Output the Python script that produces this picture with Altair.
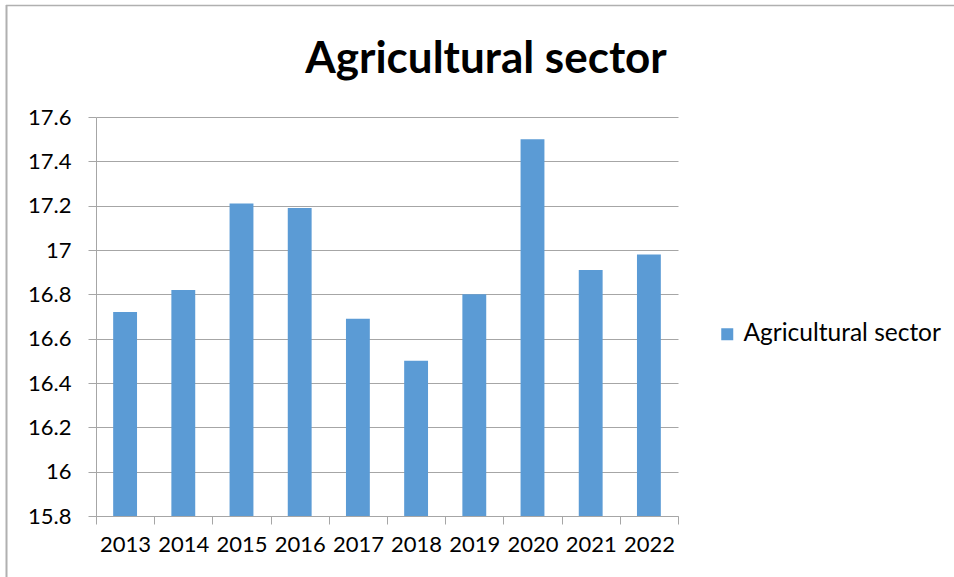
import altair as alt
import pandas as pd

years = ["2013", "2014", "2015", "2016", "2017", "2018", "2019", "2020", "2021", "2022"]
values = [16.72, 16.82, 17.21, 17.19, 16.69, 16.50, 16.80, 17.50, 16.91, 16.98]
series_name = "Agricultural sector"
title_text = "Agricultural sector"
y_ticks = [15.8, 16.0, 16.2, 16.4, 16.6, 16.8, 17.0, 17.2, 17.4, 17.6]

df = pd.DataFrame({"year": years, "value": values, "series": [series_name] * len(years)})

GRAY = "#A6A6A6"

bars = alt.Chart(df).mark_bar(clip=True, width=alt.RelativeBandSize(0.41)).encode(
    x=alt.X(
        "year:N",
        sort=years,
        scale=alt.Scale(paddingInner=0, paddingOuter=0),
        axis=alt.Axis(
            title=None, labelAngle=0, grid=False, tickBand="extent", tickSize=8,
            labelPadding=10, labelFontSize=22, domainColor=GRAY, tickColor=GRAY,
        ),
    ),
    y=alt.Y(
        "value:Q",
        scale=alt.Scale(domain=[15.8, 17.6], nice=False, zero=False),
        axis=alt.Axis(
            title=None, values=y_ticks, format=".1~f", tickSize=8, labelPadding=17,
            labelFontSize=22, grid=True, gridColor=GRAY, domainColor=GRAY, tickColor=GRAY,
        ),
    ),
    color=alt.Color(
        "series:N",
        scale=alt.Scale(range=["#5B9BD5"]),
        legend=alt.Legend(
            title=None, orient="none", legendX=619, legendY=205, symbolType="square",
            symbolSize=144, symbolStrokeWidth=0, labelFontSize=24.5, labelOffset=4,
            labelLimit=400,
        ),
    ),
)

one = pd.DataFrame({"k": [0]})
top_line = alt.Chart(one).mark_rule(color="#B0B0B0", strokeWidth=1.5).encode(
    x=alt.value(-90), x2=alt.value(858), y=alt.value(-111.5)
)
left_line = alt.Chart(one).mark_rule(color="#B0B0B0", strokeWidth=2).encode(
    x=alt.value(-89.5), y=alt.value(-112), y2=alt.value(460)
)
title = alt.Chart(pd.DataFrame({"t": [title_text]})).mark_text(
    font="Lato", fontSize=44, fontWeight="bold", color="black",
    align="center", baseline="alphabetic",
).encode(x=alt.value(390), y=alt.value(-44), text="t:N")

chart = alt.layer(bars, top_line, left_line, title).properties(
    width=582,
    height=399,
    autosize=alt.AutoSizeParams(type="none"),
    padding={"left": 96, "top": 117, "right": 276, "bottom": 61},
).configure(
    font="Lato",
).configure_axis(
    labelColor="black", labelFont="Lato",
).configure_legend(
    labelColor="black", labelFont="Lato",
).configure_view(
    stroke=None,
)

chart.save("out.html", embed_options={"renderer": "svg", "actions": False})
